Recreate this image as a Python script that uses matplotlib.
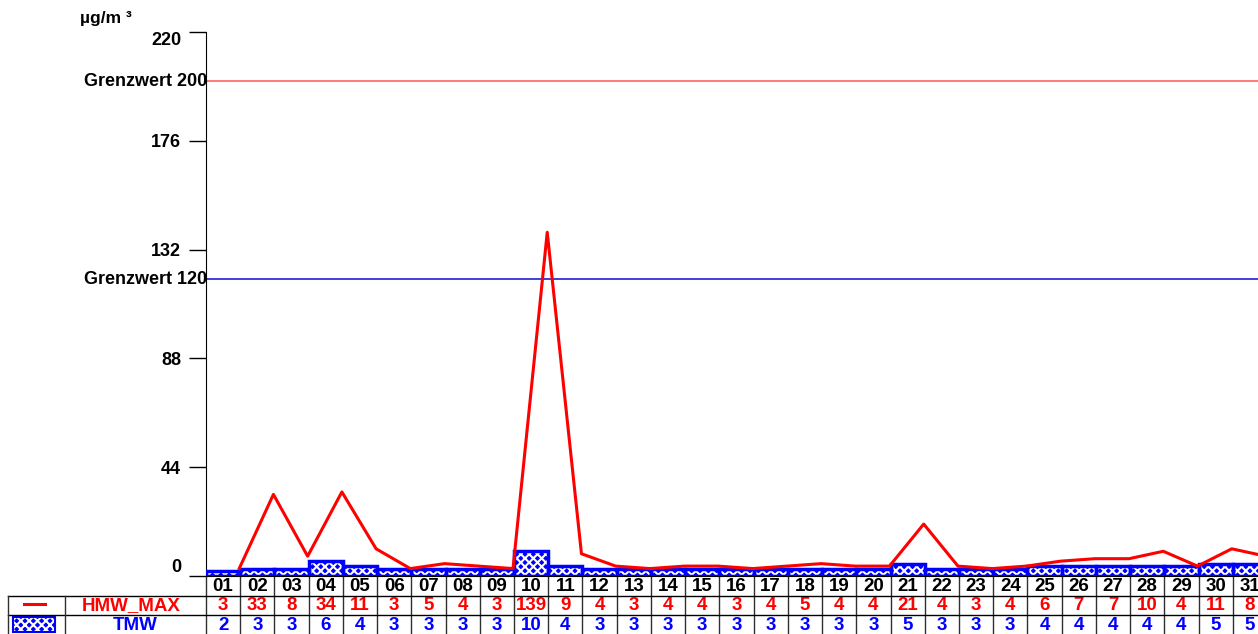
import matplotlib
matplotlib.use("Agg")
import matplotlib.pyplot as plt
from matplotlib.transforms import blended_transform_factory, offset_copy
import numpy as np

plt.rcParams['font.family'] = ['Liberation Sans', 'DejaVu Sans']
plt.rcParams['font.weight'] = 'bold'
plt.rcParams['hatch.linewidth'] = 1.5

days = ['%02d' % d for d in range(1, 32)]
hmw_max = [3, 33, 8, 34, 11, 3, 5, 4, 3, 139, 9, 4, 3, 4, 4, 3, 4, 5, 4, 4,
           21, 4, 3, 4, 6, 7, 7, 10, 4, 11, 8]
tmw = [2, 3, 3, 6, 4, 3, 3, 3, 3, 10, 4, 3, 3, 3, 3, 3, 3, 3, 3, 3,
       5, 3, 3, 3, 4, 4, 4, 4, 4, 5, 5]
yticks = [0, 44, 88, 132, 176, 220]
limits = [200, 120]
limit_labels = ['Grenzwert 200', 'Grenzwert 120']
limit_colors = ['#ff7070', '#3030d8']
unit = 'µg/m ³'

W, H = 1258, 634
fig = plt.figure(figsize=(W / 100, H / 100), dpi=100)
ax = fig.add_axes([206 / W, (H - 576) / H, 1061 / W, 544 / H])

x = np.arange(len(days))
# TMW bars: blue face with white cross hatch, thick blue outline
ax.bar(x + 0.5, tmw, width=1.0, color='#0000ff', edgecolor='white',
       hatch='xxxx', linewidth=0, zorder=2)
ax.bar(x + 0.5, tmw, width=1.0, fill=False, edgecolor='#0000ff',
       linewidth=2.5, zorder=3)
# HMW_MAX line drawn at right edge of each day
ax.plot(x + 0.97, hmw_max, color='#ff0000', linewidth=2.2, zorder=4)

for val, col in zip(limits, limit_colors):
    ax.axhline(val, color=col, linewidth=1.3, zorder=1)

ax.set_xlim(0, len(days))
ax.set_ylim(0, 220)
ax.set_xticks([])
ax.set_yticks(yticks)
ax.set_yticklabels([str(t) for t in yticks], fontsize=13, fontweight='bold')
ax.tick_params(axis='y', direction='out', length=12, width=1, pad=6)
labels = ax.get_yticklabels()
labels[0].set_va('bottom')
labels[-1].set_va('top')
ax.spines['top'].set_visible(False)
ax.spines['right'].set_visible(False)

ytr = offset_copy(ax.get_yaxis_transform(), fig=fig, x=1, y=0, units='dots')
for val, lab in zip(limits, limit_labels):
    ax.text(0, val, lab, transform=ytr, ha='right', va='center',
            fontsize=13, fontweight='bold')

fig.text(106 / W, 1 - 18 / H, unit, ha='center', va='center', fontsize=12.5,
         fontweight='bold')

# data table under the axis
tr = blended_transform_factory(ax.transData, fig.transFigure)
fy = lambda p: (H - p) / H
for i in range(len(days) + 1):
    ax.plot([i, i], [fy(577), fy(634)], color='#303030', linewidth=1,
            transform=tr, clip_on=False)
for py in [596, 615]:
    fig.add_artist(plt.Line2D([8 / W, 1], [fy(py), fy(py)], color='black',
                              linewidth=1))
for px in [8, 65]:
    fig.add_artist(plt.Line2D([px / W, px / W], [fy(596), fy(634)],
                              color='#303030', linewidth=1))

for i, d in enumerate(days):
    ax.text(i + 0.5, fy(586.5), d, transform=tr, ha='center', va='center',
            fontsize=13.5, fontweight='bold', color='black')
    ax.text(i + 0.5, fy(605.5), str(hmw_max[i]), transform=tr, ha='center',
            va='center', fontsize=13.5, fontweight='bold', color='#ff0000')
    ax.text(i + 0.5, fy(625), str(tmw[i]), transform=tr, ha='center',
            va='center', fontsize=13.5, fontweight='bold', color='#0000ff')

fig.text(131 / W, fy(605.5), 'HMW_MAX', ha='center', va='center',
         fontsize=13.5, fontweight='bold', color='#ff0000')
fig.text(135 / W, fy(625), 'TMW', ha='center', va='center',
         fontsize=13.5, fontweight='bold', color='#0000ff')

# legend symbols
fig.add_artist(plt.Line2D([24 / W, 45 / W], [fy(604), fy(604)],
                          color='#ff0000', linewidth=2.2))
fig.add_artist(plt.Rectangle((13 / W, fy(632)), 42 / W, 15 / H,
                             facecolor='#0000ff', edgecolor='white',
                             hatch='xxxx', linewidth=0))
fig.add_artist(plt.Rectangle((13 / W, fy(632)), 42 / W, 15 / H,
                             fill=False, edgecolor='#0000ff', linewidth=1.5))

fig.savefig('out.png', dpi=100)
